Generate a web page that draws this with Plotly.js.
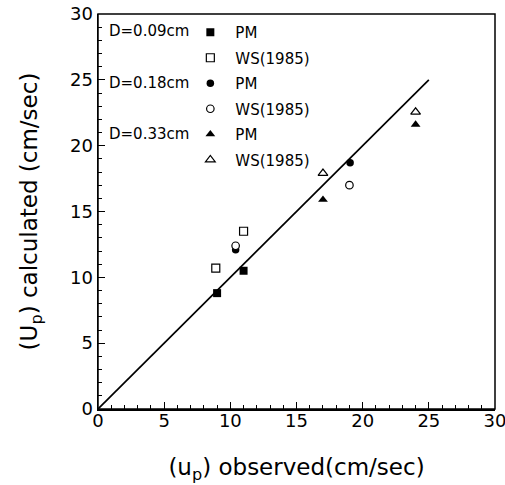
<!DOCTYPE html>
<html>
<head>
<meta charset="utf-8">
<script src="https://cdn.plot.ly/plotly-3.0.1.min.js"></script>
<style>html,body{margin:0;padding:0;background:#fff}#chart{width:505px;height:485px}</style>
</head>
<body>
<div id="chart"></div>
<script>
// Data
const pm009X = [9.0, 11.0];
const pm009Y = [8.8, 10.5];
const ws009X = [8.9, 11.0];
const ws009Y = [10.7, 13.5];
const pm018X = [10.4, 19.05];
const pm018Y = [12.1, 18.7];
const ws018X = [10.4, 19.0];
const ws018Y = [12.4, 17.0];
const pm033X = [17.0, 24.0];
const pm033Y = [15.9, 21.6];
const ws033X = [17.0, 24.0];
const ws033Y = [17.9, 22.55];
const lineX = [0, 25];
const lineY = [0, 25];
const seriesNames = ['PM', 'WS(1985)', 'PM', 'WS(1985)', 'PM', 'WS(1985)'];
const groupLabels = ['D=0.09cm', 'D=0.18cm', 'D=0.33cm'];
const axisRange = [0, 30];
const majorStep = 5;
const minorStep = 1;

const FONT = 'DejaVu Sans, Liberation Sans, Arial, sans-serif';
const filled = {color: '#000', line: {color: '#000', width: 0}};
const open = {color: '#fff', line: {color: '#000', width: 1.2}};

function pts(x, y, name, symbol, size, style, grp) {
  return {
    x: x, y: y, name: name, type: 'scatter', mode: 'markers',
    legendgroup: grp,
    marker: Object.assign({symbol: symbol, size: size}, style),
    cliponaxis: false
  };
}

const traces = [
  {x: lineX, y: lineY, type: 'scatter', mode: 'lines', showlegend: false,
   line: {color: '#000', width: 1.7}},
  pts(pm009X, pm009Y, seriesNames[0], 'square', 8, filled, 'g1'),
  pts(ws009X, ws009Y, seriesNames[1], 'square', 8, open, 'g2'),
  pts(pm018X, pm018Y, seriesNames[2], 'circle', 7.5, filled, 'g3'),
  pts(ws018X, ws018Y, seriesNames[3], 'circle', 7.5, open, 'g4'),
  pts(pm033X, pm033Y, seriesNames[4], 'triangle-up', 8.5, filled, 'g5'),
  pts(ws033X, ws033Y, seriesNames[5], 'triangle-up', 8.5, open, 'g6')
];

function axis(extra) {
  return Object.assign({
    range: axisRange, tickmode: 'linear', tick0: 0, dtick: majorStep,
    ticks: 'inside', ticklen: 7, tickwidth: 1, tickcolor: '#000',
    showline: true, linecolor: '#000', linewidth: 1.5,
    showgrid: false, zeroline: false, ticklabeloverflow: 'allow',
    tickfont: {family: FONT, size: 18, color: '#000'},
    minor: {tickmode: 'linear', tick0: 0, dtick: minorStep, ticks: 'inside', ticklen: 4,
            tickwidth: 1, tickcolor: '#000', showgrid: false}
  }, extra);
}

const layout = {
  width: 505, height: 485,
  margin: {l: 98, r: 10, t: 14, b: 76},
  paper_bgcolor: '#fff', plot_bgcolor: '#fff',
  showlegend: true,
  legend: {
    x: 0.22, y: 0.995, xanchor: 'left', yanchor: 'top',
    bgcolor: 'rgba(0,0,0,0)', borderwidth: 0, itemwidth: 40,
    font: {family: FONT, size: 15, color: '#000'},
    traceorder: 'grouped', tracegroupgap: 3
  },
  xaxis: axis({
    ticklabelstandoff: -5,
    title: {text: '(u<sub>p</sub>) observed(cm/sec)', font: {family: FONT, size: 23, color: '#000'}, standoff: 29}
  }),
  yaxis: axis({
    title: {text: '(U<sub>p</sub>) calculated (cm/sec)', font: {family: FONT, size: 23, color: '#000'}, standoff: 26}
  }),
  shapes: [{type: 'rect', xref: 'paper', yref: 'paper', x0: 0, x1: 1, y0: 0, y1: 1,
            line: {color: '#000', width: 1.5}, fillcolor: 'rgba(0,0,0,0)'}],
  annotations: groupLabels.map(function (t, i) {
    return {text: t, xref: 'paper', yref: 'paper', x: 0.234, y: [0.957, 0.825, 0.697][i],
      xanchor: 'right', yanchor: 'middle', showarrow: false,
      font: {family: FONT, size: 15, color: '#000'}};
  })
};

Plotly.newPlot('chart', traces, layout, {displayModeBar: false, staticPlot: true});
</script>
</body>
</html>
